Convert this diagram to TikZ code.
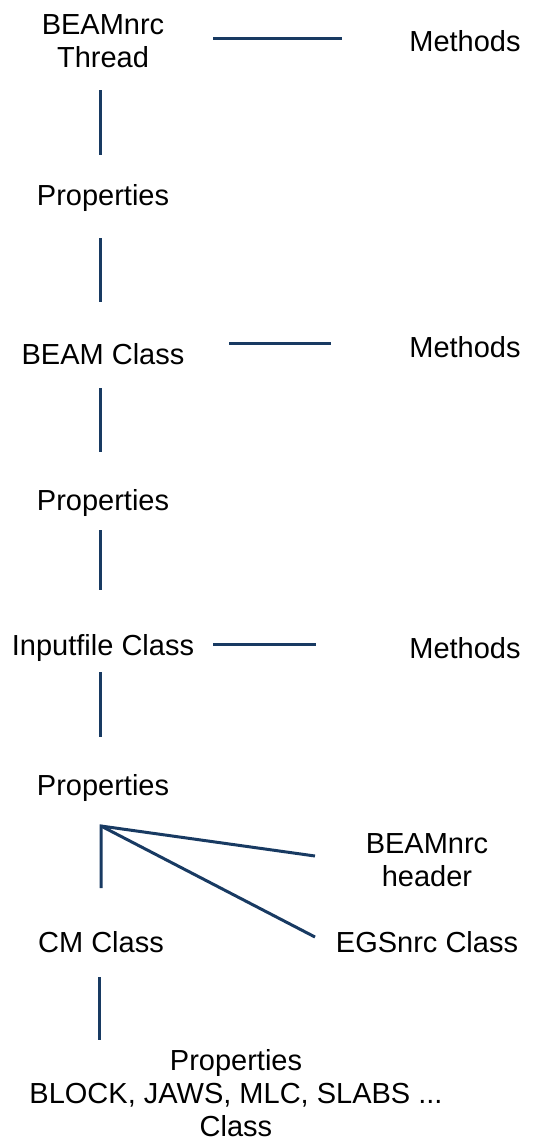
\documentclass[tikz,border=0pt]{standalone}
\usepackage{fontspec}
\setmainfont{Liberation Sans}
\definecolor{linec}{RGB}{24,58,98}
\begin{document}
\begin{tikzpicture}[x=1pt,y=-1pt,
  lbl/.style={font=\fontsize{29}{33}\selectfont, align=center, inner sep=0pt, text=black},
  conn/.style={draw=linec, line width=3pt}]
\useasboundingbox (0,0) rectangle (535,1141);
% nodes
\node[lbl] (thread) at (103,41) {BEAMnrc\\Thread};
\node[lbl] (m1) at (465,41) {Methods};
\node[lbl] (p1) at (103,198) {Properties};
\node[lbl] (beam) at (103,354) {BEAM Class};
\node[lbl] (m2) at (465,347) {Methods};
\node[lbl] (p2) at (103,503) {Properties};
\node[lbl] (inp) at (103,648) {Inputfile Class};
\node[lbl] (m3) at (465,648) {Methods};
\node[lbl] (p3) at (103,788) {Properties};
\node[lbl] (hdr) at (427,860) {BEAMnrc\\header};
\node[lbl] (egs) at (427,942) {EGSnrc Class};
\node[lbl] (cm) at (101,942) {CM Class};
\node[lbl] (blk) at (236,1093) {Properties\\BLOCK, JAWS, MLC, SLABS ...\\Class};
% connector end points
\coordinate (a1) at (213,38);  \coordinate (a2) at (342,38);
\coordinate (b1) at (100,90);  \coordinate (b2) at (100,155);
\coordinate (c1) at (100,238); \coordinate (c2) at (100,302);
\coordinate (d1) at (229,343); \coordinate (d2) at (331,343);
\coordinate (e1) at (100,388); \coordinate (e2) at (100,452);
\coordinate (f1) at (100,530); \coordinate (f2) at (100,590);
\coordinate (g1) at (213,644); \coordinate (g2) at (316,644);
\coordinate (h1) at (100,672); \coordinate (h2) at (100,737);
\coordinate (j0) at (101,826); \coordinate (j1) at (101,888);
\coordinate (j2) at (315,856); \coordinate (j3) at (315,937);
\coordinate (k1) at (99,977);  \coordinate (k2) at (99,1040);
% connectors
\draw[conn] (a1) -- (a2);
\draw[conn] (b1) -- (b2);
\draw[conn] (c1) -- (c2);
\draw[conn] (d1) -- (d2);
\draw[conn] (e1) -- (e2);
\draw[conn] (f1) -- (f2);
\draw[conn] (g1) -- (g2);
\draw[conn] (h1) -- (h2);
\draw[conn] (j1) -- (j0) -- (j2);
\draw[conn] (j0) -- (j3);
\draw[conn] (k1) -- (k2);
\end{tikzpicture}
\end{document}
